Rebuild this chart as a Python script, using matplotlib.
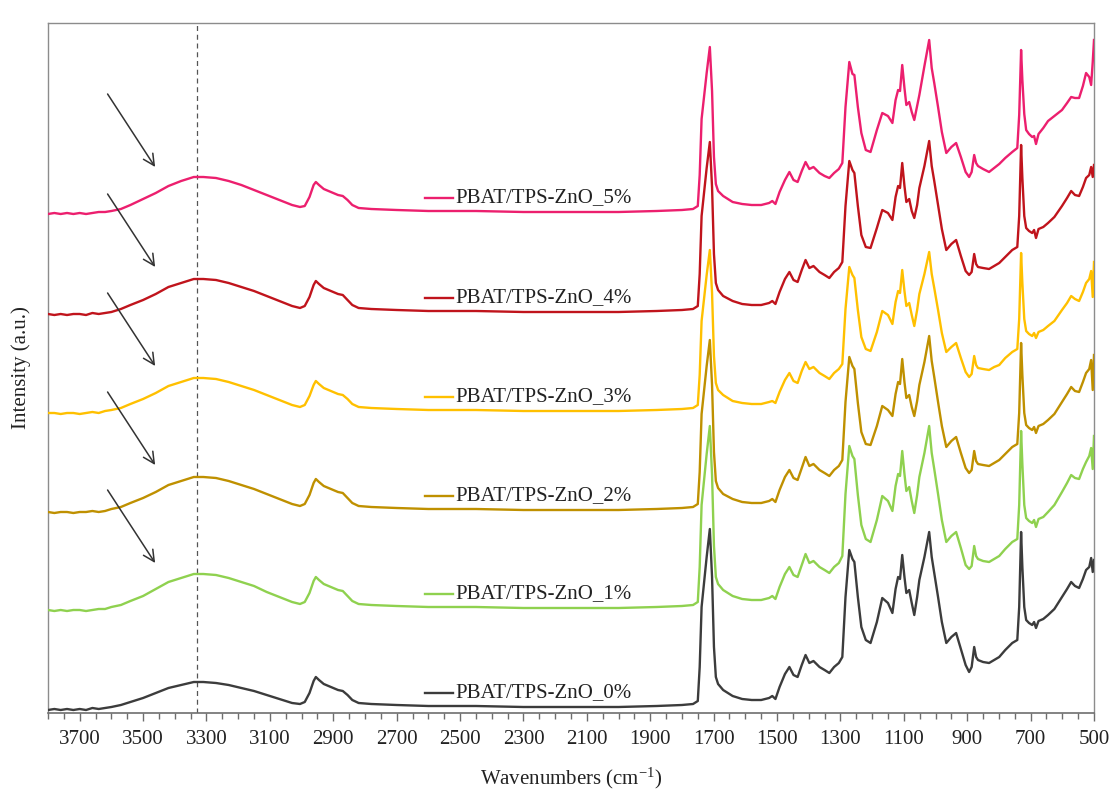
import matplotlib
matplotlib.use("Agg")
import matplotlib.pyplot as plt
from matplotlib.ticker import MultipleLocator, FixedLocator

# Wavenumber grid (cm-1), shared by all spectra
wavenumber = [
    3800, 3780, 3760, 3740, 3720, 3700, 3680, 3660, 3640, 3620,
    3600, 3570, 3540, 3500, 3460, 3420, 3380, 3340, 3310, 3270,
    3230, 3190, 3150, 3110, 3070, 3030, 3005, 2990, 2975, 2962,
    2955, 2945, 2930, 2915, 2900, 2885, 2870, 2855, 2840, 2820,
    2780, 2700, 2600, 2450, 2300, 2150, 2000, 1880, 1800, 1765,
    1750, 1744, 1738, 1730, 1722, 1712, 1705, 1699, 1693, 1686,
    1670, 1640, 1610, 1580, 1550, 1525, 1515, 1505, 1492, 1475,
    1461, 1448, 1435, 1422, 1410, 1398, 1385, 1366, 1350, 1335,
    1320, 1305, 1294, 1284, 1272, 1262, 1256, 1245, 1234, 1220,
    1205, 1185, 1168, 1150, 1136, 1126, 1118, 1112, 1105, 1098,
    1092, 1083, 1075, 1067, 1058, 1051, 1035, 1020, 1012, 1004,
    992, 980, 966, 950, 935, 920, 905, 894, 886, 878,
    872, 866, 850, 831, 815, 799, 780, 758, 742, 736,
    730, 726, 720, 714, 705, 695, 689, 683, 675, 660,
    645, 625, 601, 585, 572, 560, 547, 535, 525, 515,
    509, 504, 500,
]

# Absorbance-like intensity (a.u.) of each sample
zno_0 = [
    -3, -2, -3, -2, -3, -2, -3, -1, -2, -1,
    0, 2, 5, 9, 14, 19, 22, 25, 25, 24,
    22, 19, 16, 12, 8, 4, 3, 5, 14, 26,
    30, 27, 23, 21, 19, 17, 16, 12, 7, 4,
    3, 2, 1, 1, 0, 0, 0, 1, 2, 3,
    6, 40, 100, 125, 150, 178, 130, 60, 30, 23,
    17, 11, 8, 7, 7, 9, 11, 8, 20, 33,
    40, 32, 30, 42, 52, 44, 46, 40, 37, 34,
    40, 44, 50, 110, 157, 148, 145, 110, 80, 67,
    64, 85, 109, 104, 94, 118, 130, 128, 152, 130,
    114, 117, 104, 92, 110, 127, 150, 175, 150, 134,
    110, 85, 64, 70, 74, 58, 42, 35, 40, 60,
    50, 47, 45, 44, 47, 50, 57, 64, 67, 100,
    175, 140, 100, 87, 84, 82, 85, 79, 86, 88,
    92, 98, 110, 118, 125, 121, 119, 128, 137, 140,
    149, 135, 147,
]
zno_1 = [
    -2, -3, -2, -3, -2, -2, -3, -2, -1, -1,
    1, 3, 7, 12, 19, 26, 30, 34, 34, 33,
    30, 26, 22, 16, 11, 6, 4, 6, 15, 27,
    31, 28, 24, 22, 20, 18, 17, 12, 7, 4,
    3, 2, 1, 1, 0, 0, 0, 1, 2, 3,
    6, 41, 103, 128, 154, 182, 133, 62, 31, 24,
    18, 12, 9, 8, 8, 10, 12, 9, 21, 34,
    41, 33, 31, 43, 54, 45, 47, 41, 38, 35,
    41, 45, 52, 114, 162, 152, 149, 113, 83, 69,
    66, 88, 112, 107, 97, 122, 134, 132, 157, 134,
    117, 121, 107, 95, 113, 131, 155, 182, 155, 139,
    114, 88, 66, 72, 76, 60, 43, 39, 42, 62,
    52, 49, 47, 46, 49, 52, 59, 66, 69, 103,
    177, 144, 103, 90, 87, 85, 88, 81, 89, 91,
    96, 103, 116, 125, 133, 130, 129, 139, 146, 152,
    160, 139, 172,
]
zno_2 = [
    -2, -3, -2, -2, -3, -2, -2, -1, -2, -1,
    1, 3, 7, 12, 18, 25, 29, 33, 33, 32,
    29, 25, 21, 16, 11, 6, 4, 6, 15, 27,
    31, 28, 24, 22, 20, 18, 17, 12, 7, 4,
    3, 2, 1, 1, 0, 0, 0, 1, 2, 3,
    6, 38, 96, 120, 144, 170, 125, 58, 29, 22,
    16, 11, 8, 7, 7, 9, 11, 8, 20, 33,
    40, 32, 30, 42, 53, 44, 46, 40, 37, 34,
    40, 44, 50, 108, 153, 144, 141, 107, 78, 66,
    65, 84, 104, 100, 94, 116, 128, 126, 151, 128,
    112, 115, 103, 94, 109, 125, 148, 174, 149, 133,
    108, 84, 63, 69, 73, 57, 42, 37, 40, 59,
    49, 46, 45, 44, 47, 50, 56, 63, 66, 97,
    167, 135, 97, 85, 82, 80, 83, 77, 84, 86,
    90, 96, 108, 116, 123, 119, 118, 128, 137, 141,
    150, 120, 155,
]
zno_3 = [
    -2, -2, -3, -2, -2, -3, -2, -1, -2, 0,
    1, 3, 7, 12, 18, 25, 29, 33, 33, 32,
    29, 25, 21, 16, 11, 6, 4, 6, 15, 26,
    30, 27, 23, 21, 19, 17, 16, 12, 7, 4,
    3, 2, 1, 1, 0, 0, 0, 1, 2, 3,
    6, 36, 90, 113, 136, 161, 118, 55, 28, 21,
    16, 10, 8, 7, 7, 9, 10, 8, 19, 31,
    38, 30, 28, 40, 49, 42, 44, 38, 35, 32,
    38, 42, 47, 102, 144, 136, 133, 101, 74, 62,
    60, 79, 100, 96, 87, 109, 120, 118, 141, 120,
    105, 108, 96, 85, 101, 117, 137, 159, 137, 123,
    101, 78, 59, 64, 68, 53, 39, 34, 37, 55,
    46, 43, 42, 41, 44, 46, 53, 59, 62, 92,
    158, 128, 92, 80, 77, 75, 78, 73, 79, 81,
    85, 90, 101, 108, 115, 112, 110, 119, 128, 132,
    140, 114, 149,
]
zno_4 = [
    -2, -3, -2, -3, -2, -2, -3, -1, -2, -1,
    0, 3, 7, 12, 18, 25, 29, 33, 33, 32,
    29, 25, 21, 16, 11, 6, 4, 6, 15, 27,
    31, 28, 24, 22, 20, 18, 17, 12, 7, 4,
    3, 2, 1, 1, 0, 0, 0, 1, 2, 3,
    6, 38, 96, 120, 144, 170, 125, 58, 29, 22,
    16, 11, 8, 7, 7, 9, 11, 8, 20, 33,
    40, 32, 30, 42, 52, 44, 46, 40, 37, 34,
    40, 44, 50, 106, 151, 142, 139, 106, 77, 65,
    64, 84, 102, 99, 92, 115, 126, 124, 149, 126,
    110, 113, 101, 94, 107, 124, 146, 171, 146, 131,
    107, 83, 62, 68, 72, 56, 41, 37, 40, 58,
    48, 45, 44, 43, 46, 49, 55, 62, 65, 96,
    167, 134, 96, 84, 81, 79, 82, 74, 83, 85,
    89, 95, 106, 114, 121, 117, 116, 125, 134, 137,
    145, 135, 147,
]
zno_5 = [
    -2, -1, -2, -1, -2, -1, -2, -1, 0, 0,
    1, 3, 7, 13, 19, 26, 31, 35, 35, 34,
    31, 27, 22, 17, 12, 7, 5, 6, 15, 27,
    30, 27, 23, 21, 19, 17, 16, 12, 7, 4,
    3, 2, 1, 1, 0, 0, 0, 1, 2, 3,
    6, 37, 93, 116, 139, 165, 121, 55, 28, 21,
    16, 10, 8, 7, 7, 9, 11, 8, 20, 32,
    40, 32, 30, 41, 50, 43, 45, 39, 36, 34,
    39, 43, 49, 105, 150, 138, 137, 105, 79, 62,
    60, 82, 99, 96, 89, 112, 122, 121, 147, 124,
    107, 110, 100, 92, 106, 117, 146, 172, 144, 129,
    105, 80, 59, 65, 69, 55, 40, 35, 40, 57,
    49, 46, 43, 40, 44, 48, 54, 60, 64, 97,
    162, 132, 98, 82, 78, 75, 76, 68, 78, 84,
    91, 96, 102, 109, 115, 114, 114, 126, 139, 135,
    127, 150, 172,
]

labels = ["PBAT/TPS-ZnO_0%", "PBAT/TPS-ZnO_1%", "PBAT/TPS-ZnO_2%",
          "PBAT/TPS-ZnO_3%", "PBAT/TPS-ZnO_4%", "PBAT/TPS-ZnO_5%"]
spectra = [zno_0, zno_1, zno_2, zno_3, zno_4, zno_5]
colors = ["#3c3c3c", "#8fd14f", "#bf9000", "#ffc000", "#c0141c", "#ec1f6e"]

# vertical stacking of the spectra
offsets = [6, 105, 203, 302, 401, 501]
oh_band = 3330

for s in spectra:
    assert len(s) == len(wavenumber)

plt.rcParams["font.family"] = ["Liberation Serif", "DejaVu Serif"]
plt.rcParams["mathtext.fontset"] = "custom"
plt.rcParams["mathtext.rm"] = "Liberation Serif"
plt.rcParams["mathtext.default"] = "regular"

fig = plt.figure(figsize=(11.12, 7.96), dpi=100)
ax = fig.add_axes([48 / 1112, 1 - 713 / 796, (1094 - 48) / 1112, (713 - 23) / 796])

for spec, off, col, lab in zip(spectra, offsets, colors, labels):
    ax.plot(wavenumber, [v + off for v in spec], color=col, lw=1.7,
            solid_joinstyle="round", zorder=3)
    # inline legend entry
    ax.plot([2612, 2522], [off + 14, off + 14], color=col, lw=1.7, zorder=3)
    ax.text(2514, off + 14, lab, fontsize=15, color="#222222",
            ha="left", va="center", zorder=4)

# arrows pointing at the O-H stretching band
for off in offsets[1:]:
    ax.annotate("", xy=(3462, off + 45), xytext=(3612, off + 118),
                arrowprops=dict(arrowstyle="->", lw=1.1, color="#333333",
                                mutation_scale=20, shrinkA=0, shrinkB=0),
                zorder=4)

ax.axvline(oh_band, color="#555555", lw=0.9, dashes=(4, 3), zorder=2)

ax.set_xlim(3800, 500)
ax.set_ylim(0, 690)
ax.xaxis.set_major_locator(FixedLocator(list(range(3700, 499, -200))))
ax.xaxis.set_minor_locator(MultipleLocator(50))
ax.set_yticks([])
ax.tick_params(axis="x", which="major", direction="out", length=6, width=1,
               color="#6e6e6e", labelsize=15, labelcolor="#222222", pad=6)
ax.tick_params(axis="x", which="minor", direction="out", length=4, width=1,
               color="#6e6e6e")

for side in ["top", "right", "left"]:
    ax.spines[side].set_color("#8c8c8c")
    ax.spines[side].set_linewidth(1.0)
ax.spines["bottom"].set_color("#6e6e6e")
ax.spines["bottom"].set_linewidth(1.2)

ax.set_xlabel(r"Wavenumbers (cm$^{-1}$)", fontsize=15, color="#222222", labelpad=12)
ax.set_ylabel("Intensity (a.u.)", fontsize=15, color="#222222", labelpad=12)

fig.savefig("out.png", dpi=100, facecolor="white")
